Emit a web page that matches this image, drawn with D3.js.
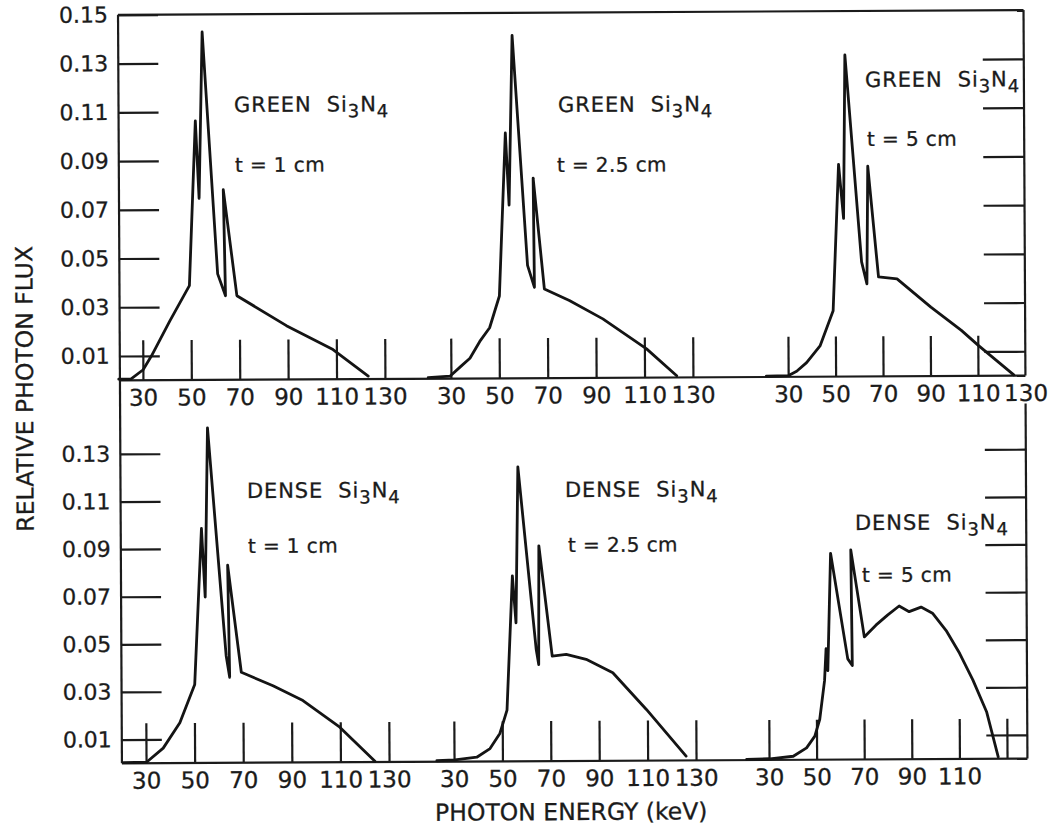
<!DOCTYPE html>
<html>
<head>
<meta charset="utf-8">
<script src="https://cdn.jsdelivr.net/npm/d3@7"></script>
<style>
  html, body { margin: 0; padding: 0; background: #ffffff; }
  svg { display: block; background: #ffffff; }
  text { font-family: "DejaVu Sans", "Liberation Sans", sans-serif; fill: #1b1b1b; stroke: #1b1b1b; stroke-width: 0.3; }
  .tick text { font-size: 22px; }
  .xaxis .tick text { font-size: 23px; }
  .tick line { stroke: #1b1b1b; stroke-width: 2.2; }
  .frame { stroke: #1b1b1b; stroke-width: 2.2; fill: none; }
  .spectrum { stroke: #141414; stroke-width: 2.8; fill: none; stroke-linejoin: round; stroke-linecap: round; }
  .title { font-size: 23.5px; }
  .note { font-size: 21px; letter-spacing: 0.9px; }
  .thick { font-size: 20px; letter-spacing: 0.4px; }
</style>
</head>
<body>
<svg id="chart" width="1053" height="827"></svg>
<script>
// Photon energy (keV) vs relative photon flux, transmitted through Si3N4 slabs.
const energyTicks = [30, 50, 70, 90, 110, 130];
const fluxTicksTop = [0.01, 0.03, 0.05, 0.07, 0.09, 0.11, 0.13, 0.15];
const fluxTicksBottom = [0.01, 0.03, 0.05, 0.07, 0.09, 0.11, 0.13];
const materials = ["GREEN", "DENSE"];
const thicknesses = ["1", "2.5", "5"];

// Spectra as [energy keV, relative flux]; the K-line spikes double back in energy.
const green1 = [[20, 0.0005], [25, 0.0005], [30.1, 0.0043], [33.6, 0.010], [41.2, 0.0242], [49.4, 0.0387],
  [52.2, 0.1063], [53.6, 0.0745], [55.2, 0.1428], [61.1, 0.0435], [64.3, 0.0345], [63.6, 0.078],
  [69.0, 0.0345], [89.4, 0.0221], [108.6, 0.0122], [123.1, 0.0012]];
const green25 = [[20.6, 0.0005], [29.6, 0.001], [34, 0.0049], [37.9, 0.0083], [42, 0.0152], [46.1, 0.0208],
  [50.2, 0.0338], [53.0, 0.1007], [54.4, 0.0711], [56.0, 0.1407], [61.9, 0.0463], [64.7, 0.0373],
  [64.4, 0.0821], [68.8, 0.0366], [79.1, 0.0318], [92.9, 0.0242], [110.9, 0.0118], [123.3, 0.0007]];
const green5 = [[20.8, 0.0003], [30, 0.0005], [33.6, 0.0023], [37.8, 0.0058], [43.5, 0.0126], [49.1, 0.027],
  [51.7, 0.0871], [53.7, 0.0649], [54.6, 0.132], [61.2, 0.047], [63.4, 0.038], [64.0, 0.0863],
  [68.3, 0.0408], [76.1, 0.040], [90.3, 0.0283], [103.1, 0.0187], [110.2, 0.0125], [125.1, 0.0003]];
const dense1 = [[20.7, 0.0003], [30.3, 0.0005], [37.1, 0.0063], [44, 0.0169], [50.2, 0.033], [53.3, 0.0985],
  [54.7, 0.0697], [56.0, 0.1408], [63.2, 0.045], [64.6, 0.0359], [64.0, 0.083], [69.4, 0.038],
  [82.4, 0.0323], [94.7, 0.026], [109.8, 0.0147], [124.2, 0.0003]];
const dense25 = [[22.9, 0.0004], [30.4, 0.0007], [39.4, 0.0018], [44.9, 0.0054], [49, 0.0117], [52, 0.0215],
  [54.5, 0.0779], [55.9, 0.0582], [57.0, 0.1237], [64.2, 0.0469], [65.2, 0.0406], [65.5, 0.0905],
  [70.8, 0.0441], [76.6, 0.0448], [84.8, 0.0427], [95.8, 0.037], [109.6, 0.0215], [125.9, 0.0018]];
const dense5 = [[20.6, 0.0003], [30.4, 0.0005], [40.2, 0.0015], [45.8, 0.005], [49.3, 0.0099], [51.4, 0.017],
  [53.5, 0.0332], [54.2, 0.0466], [54.9, 0.0374], [56.3, 0.0867], [63.3, 0.0423], [65.2, 0.0395],
  [64.8, 0.0881], [70.3, 0.0515], [75.2, 0.0564], [80.1, 0.0606], [85, 0.0644], [89.2, 0.062],
  [94.2, 0.0639], [99, 0.0613], [104.7, 0.054], [110.3, 0.0444], [115.8, 0.0332], [121.5, 0.0198],
  [126.3, 0.0008]];

const spectra = [[green1, green25, green5], [dense1, dense25, dense5]];

// ---- layout ----
const frame = { left: 120, right: 1025.5, top: 12.5, midBase: 378, bottom: 761, rightResume: 406 };
const yScales = [
  d3.scaleLinear().domain([0, 0.15]).range([frame.midBase, frame.top]),
  d3.scaleLinear().domain([0, 0.13]).range([frame.bottom, frame.bottom - 0.13 * 2380])
];
const baselines = [frame.midBase, frame.bottom];
const panelRanges = [
  [[118.8, 385], [426.8, 693], [764.5, 1025.5]],
  [[119.8, 387.1], [427.9, 694.1], [743.3, 1005.1]]
];
// [material x, material baseline, thickness x, thickness baseline]
const notePos = [
  [[235.5, 110.2, 236.1, 170.2], [559.5, 111.9, 558.1, 171.9], [866.6, 88.5, 868.3, 147.6]],
  [[246.4, 496.3, 247.1, 551.3], [564.4, 497.0, 567.2, 552.0], [854.3, 531.5, 861.0, 583.5]]
];

const svg = d3.select("#chart");
const g = svg.append("g").attr("transform", "rotate(-0.3,570,390)");

// frame lines
const frameLines = [
  [frame.left, frame.top, frame.left, frame.bottom],
  [frame.left, frame.top, frame.right, frame.top],
  [frame.right, frame.top, frame.right, frame.midBase],
  [frame.right, frame.rightResume, frame.right, frame.bottom],
  [frame.left, frame.midBase, frame.right, frame.midBase],
  [frame.left, frame.bottom, frame.right, frame.bottom]
];
g.selectAll("line.frame").data(frameLines).join("line")
  .attr("class", "frame")
  .attr("x1", d => d[0]).attr("y1", d => d[1])
  .attr("x2", d => d[2]).attr("y2", d => d[3]);

function tidy(sel) {
  sel.attr("font-size", null).attr("font-family", null).attr("color", "#1b1b1b");
  sel.select(".domain").remove();
}

// flux axes, left with labels and right without
yScales.forEach((y, r) => {
  g.append("g")
    .attr("transform", `translate(${frame.left},0)`)
    .call(d3.axisLeft(y).tickValues(r === 0 ? fluxTicksTop : fluxTicksBottom)
      .tickSize(-40).tickPadding(10).tickFormat(d3.format(".2f")))
    .call(tidy);
  g.append("g")
    .attr("transform", `translate(${frame.right},0)`)
    .call(d3.axisRight(y).tickValues(fluxTicksBottom).tickSize(-41).tickFormat(""))
    .call(tidy);
});

const line = d3.line();

spectra.forEach((row, r) => {
  row.forEach((data, c) => {
    const x = d3.scaleLinear().domain([20, 130]).range(panelRanges[r][c]);
    const y = yScales[r];

    const ax = g.append("g")
      .attr("class", "xaxis")
      .attr("transform", `translate(0,${baselines[r]})`)
      .call(d3.axisBottom(x).tickValues(energyTicks).tickSize(-40).tickPadding(9)
        .tickFormat(d => (r === 1 && c === 2 && d === 130) ? "" : d))
      .call(tidy);
    // the last top panel's 130 mark coincides with the frame edge
    if (r === 0 && c === 2) ax.selectAll(".tick").filter(d => d === 130).select("line").remove();

    g.append("path")
      .attr("class", "spectrum")
      .attr("d", line(data.map(d => [x(d[0]), y(d[1])])));

    const p = notePos[r][c];
    const t1 = g.append("text").attr("class", "note").attr("x", p[0]).attr("y", p[1]);
    t1.append("tspan").text(materials[r] + "\u00a0\u00a0Si");
    t1.append("tspan").attr("font-size", "18px").attr("dy", 6).text("3");
    t1.append("tspan").attr("dy", -6).text("N");
    t1.append("tspan").attr("font-size", "18px").attr("dy", 6).text("4");

    g.append("text").attr("class", "thick").attr("x", p[2]).attr("y", p[3])
      .text(`t = ${thicknesses[c]} cm`);
  });
});

// axis titles
g.append("text").attr("class", "title")
  .attr("transform", "translate(33,386) rotate(-90)")
  .attr("text-anchor", "middle")
  .text("RELATIVE PHOTON FLUX");
g.append("text").attr("class", "title")
  .attr("x", 569).attr("y", 820)
  .attr("text-anchor", "middle")
  .text("PHOTON ENERGY (keV)");
</script>
</body>
</html>
